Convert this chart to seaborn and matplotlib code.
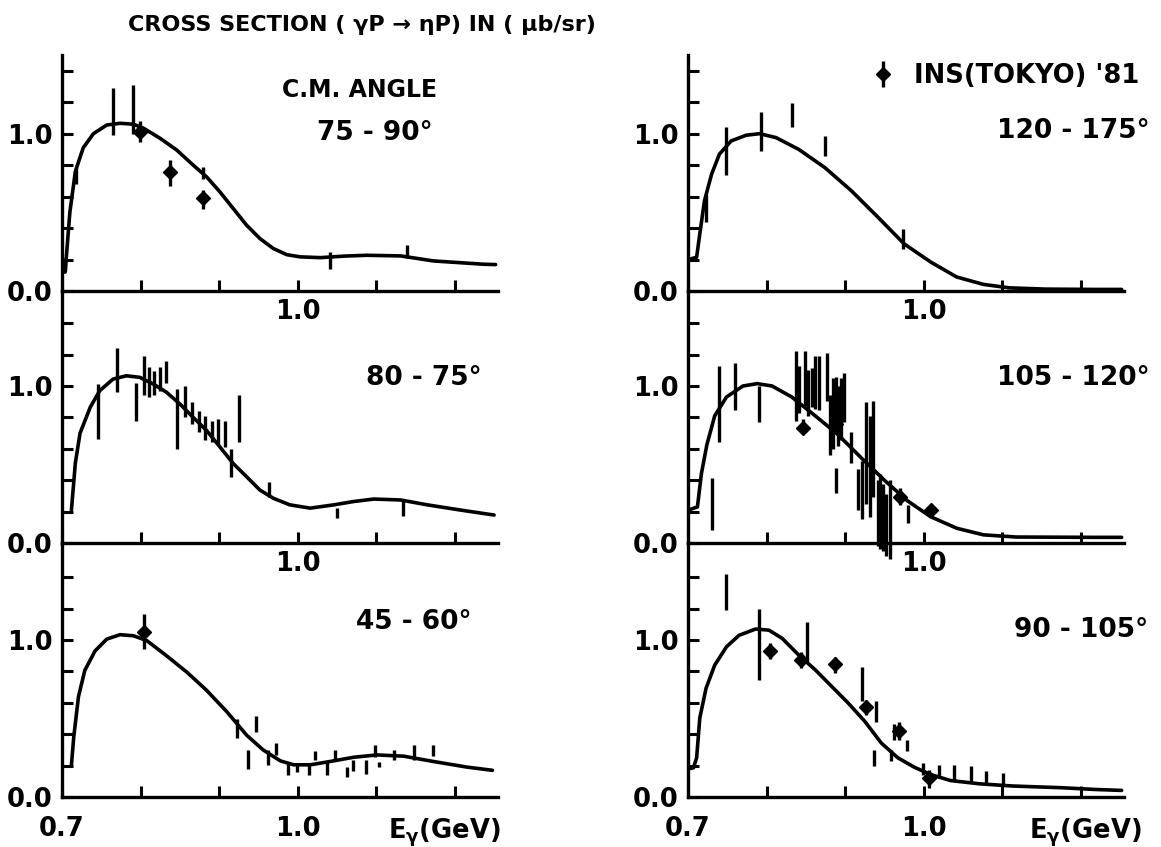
import numpy as np
import pandas as pd
import matplotlib
matplotlib.use("Agg")
import matplotlib.pyplot as plt
import seaborn as sns

# ---------------- data ----------------
# Left-top panel: 75-90 deg
lt_curve_e = [0.704, 0.710, 0.717, 0.727, 0.740, 0.757, 0.774, 0.791, 0.804, 0.825, 0.846, 0.867,
              0.884, 0.901, 0.918, 0.935, 0.952, 0.969, 0.986, 1.003, 1.029, 1.060, 1.088, 1.131,
              1.173, 1.237, 1.252]
lt_curve_y = [0.12, 0.50, 0.76, 0.91, 1.00, 1.055, 1.066, 1.06, 1.034, 0.97, 0.896, 0.80,
              0.726, 0.63, 0.524, 0.418, 0.333, 0.27, 0.231, 0.217, 0.212, 0.222, 0.227, 0.223,
              0.191, 0.17, 0.168]
lt_bar_e = [0.704, 0.718, 0.765, 0.791, 0.880, 1.041, 1.139]
lt_bar_lo = [0.13, 0.68, 0.99, 1.00, 0.715, 0.14, 0.21]
lt_bar_hi = [0.21, 0.78, 1.29, 1.31, 0.79, 0.25, 0.29]
lt_pt_e = [0.799, 0.838, 0.879]
lt_pt_y = [1.01, 0.758, 0.59]
lt_pt_lo = [0.95, 0.67, 0.52]
lt_pt_hi = [1.08, 0.83, 0.64]

# Left-middle panel: 80-75 deg
lm_curve_e = [0.712, 0.717, 0.723, 0.736, 0.748, 0.765, 0.782, 0.799, 0.816, 0.833, 0.850, 0.867,
              0.884, 0.901, 0.918, 0.935, 0.952, 0.969, 0.990, 1.016, 1.046, 1.071, 1.097, 1.131,
              1.165, 1.207, 1.250]
lm_curve_y = [0.21, 0.51, 0.70, 0.865, 0.97, 1.044, 1.065, 1.055, 1.013, 0.96, 0.886, 0.80,
              0.717, 0.612, 0.506, 0.422, 0.337, 0.285, 0.243, 0.222, 0.243, 0.264, 0.28, 0.274,
              0.243, 0.21, 0.178]
lm_bar_e = [0.746, 0.770, 0.794, 0.804, 0.811, 0.817, 0.825, 0.833, 0.846, 0.857, 0.865, 0.875,
            0.882, 0.891, 0.899, 0.907, 0.915, 0.925, 0.964, 1.050, 1.134]
lm_bar_lo = [0.665, 0.96, 0.78, 0.94, 0.928, 0.94, 0.97, 1.02, 0.60, 0.80, 0.76, 0.707,
             0.654, 0.644, 0.633, 0.612, 0.42, 0.644, 0.295, 0.16, 0.17]
lm_bar_hi = [1.013, 1.245, 1.02, 1.19, 1.118, 1.097, 1.118, 1.16, 0.98, 1.00, 0.897, 0.84,
             0.81, 0.78, 0.79, 0.78, 0.60, 0.94, 0.39, 0.22, 0.274]

# Left-bottom panel: 45-60 deg
lb_curve_e = [0.712, 0.715, 0.721, 0.729, 0.742, 0.757, 0.774, 0.791, 0.808, 0.833, 0.859, 0.884,
              0.910, 0.935, 0.956, 0.978, 0.995, 1.016, 1.041, 1.071, 1.101, 1.135, 1.173, 1.216,
              1.248]
lb_curve_y = [0.205, 0.385, 0.64, 0.806, 0.93, 1.006, 1.034, 1.027, 0.996, 0.90, 0.795, 0.68,
              0.542, 0.394, 0.30, 0.23, 0.205, 0.205, 0.226, 0.253, 0.268, 0.26, 0.226, 0.19,
              0.17]
lb_bar_e = [0.923, 0.947, 0.937, 0.962, 0.972, 0.988, 0.999, 1.014, 1.022, 1.037, 1.048, 1.063,
            1.071, 1.087, 1.098, 1.104, 1.122, 1.148, 1.172]
lb_bar_lo = [0.373, 0.416, 0.177, 0.205, 0.268, 0.14, 0.157, 0.14, 0.236, 0.14, 0.236, 0.13,
             0.163, 0.148, 0.257, 0.19, 0.236, 0.236, 0.26]
lb_bar_hi = [0.50, 0.515, 0.30, 0.30, 0.346, 0.215, 0.215, 0.215, 0.29, 0.226, 0.30, 0.194,
             0.236, 0.236, 0.33, 0.226, 0.30, 0.33, 0.33]
lb_pt_e = [0.805]
lb_pt_y = [1.05]
lb_pt_lo = [0.943]
lb_pt_hi = [1.165]

# Right-top panel: 120-175 deg
rt_curve_e = [0.701, 0.711, 0.715, 0.721, 0.730, 0.740, 0.755, 0.774, 0.791, 0.812, 0.841, 0.874,
              0.908, 0.942, 0.975, 1.009, 1.042, 1.076, 1.109, 1.155, 1.218, 1.252]
rt_curve_y = [0.20, 0.215, 0.363, 0.574, 0.742, 0.87, 0.954, 0.99, 1.0, 0.975, 0.90, 0.785,
              0.637, 0.468, 0.30, 0.184, 0.089, 0.042, 0.02, 0.012, 0.01, 0.01]
rt_bar_e = [0.723, 0.749, 0.793, 0.832, 0.874, 0.974]
rt_bar_lo = [0.437, 0.74, 0.89, 1.04, 0.86, 0.268]
rt_bar_hi = [0.616, 1.04, 1.14, 1.196, 0.985, 0.394]

# Right-middle panel: 105-120 deg
rm_curve_e = [0.701, 0.712, 0.717, 0.724, 0.734, 0.749, 0.770, 0.788, 0.807, 0.832, 0.862, 0.891,
              0.921, 0.950, 0.979, 1.009, 1.042, 1.076, 1.118, 1.218, 1.252]
rm_curve_y = [0.21, 0.23, 0.44, 0.625, 0.81, 0.93, 1.0, 1.015, 1.0, 0.93, 0.81, 0.69,
              0.54, 0.40, 0.27, 0.167, 0.094, 0.052, 0.038, 0.036, 0.036]
rm_bar_e = [0.730, 0.740, 0.760, 0.791, 0.837, 0.841, 0.849, 0.853, 0.858, 0.862, 0.867, 0.877,
            0.881, 0.885, 0.888, 0.891, 0.895, 0.898, 0.889, 0.907, 0.916, 0.922, 0.927, 0.932,
            0.936, 0.942, 0.945, 0.948, 0.952, 0.957, 0.980]
rm_bar_lo = [0.083, 0.646, 0.844, 0.77, 0.78, 0.83, 0.875, 0.81, 0.865, 0.855, 0.844, 0.906,
             0.56, 0.60, 0.71, 0.615, 0.656, 0.77, 0.32, 0.51, 0.21, 0.156, 0.25, 0.167,
             0.29, -0.02, -0.04, -0.05, -0.08, -0.10, 0.125]
rm_bar_hi = [0.417, 1.125, 1.146, 1.0, 1.22, 1.125, 1.22, 1.10, 1.115, 1.19, 1.19, 1.21,
             0.94, 1.05, 1.06, 1.0, 1.05, 1.08, 0.48, 0.71, 0.47, 0.52, 0.896, 0.81,
             0.906, 0.40, 0.44, 0.375, 0.31, 0.40, 0.24]
rm_pt_e = [0.847, 0.889, 0.970, 1.009]
rm_pt_y = [0.73, 0.76, 0.29, 0.21]
rm_pt_lo = [0.70, 0.72, 0.24, 0.17]
rm_pt_hi = [0.79, 0.80, 0.35, 0.25]

# Right-bottom panel: 90-105 deg
rb_curve_e = [0.701, 0.707, 0.711, 0.715, 0.723, 0.734, 0.749, 0.765, 0.786, 0.803, 0.820, 0.841,
              0.862, 0.883, 0.904, 0.925, 0.946, 0.967, 0.988, 1.009, 1.034, 1.071, 1.113, 1.176,
              1.218, 1.252]
rb_curve_y = [0.18, 0.186, 0.25, 0.503, 0.693, 0.84, 0.957, 1.03, 1.07, 1.063, 1.01, 0.904,
              0.81, 0.704, 0.598, 0.482, 0.344, 0.25, 0.19, 0.143, 0.105, 0.084, 0.07, 0.059,
              0.048, 0.042]
rb_bar_e = [0.749, 0.791, 0.851, 0.921, 0.939, 0.937, 0.962, 0.979, 0.958, 0.999, 1.019, 1.039,
            1.060, 1.079, 1.101]
rb_bar_lo = [1.19, 0.746, 0.862, 0.61, 0.48, 0.197, 0.36, 0.29, 0.228, 0.143, 0.122, 0.10,
             0.09, 0.08, 0.08]
rb_bar_hi = [1.42, 1.20, 1.116, 0.83, 0.61, 0.30, 0.465, 0.365, 0.30, 0.218, 0.207, 0.207,
             0.197, 0.165, 0.154]
rb_pt_e = [0.805, 0.844, 0.887, 0.926, 0.968, 1.007]
rb_pt_y = [0.93, 0.873, 0.845, 0.573, 0.42, 0.122]
rb_pt_lo = [0.88, 0.82, 0.79, 0.524, 0.365, 0.059]
rb_pt_hi = [0.98, 0.926, 0.894, 0.62, 0.48, 0.175]

angle_labels = ["75 - 90°", "80 - 75°", "45 - 60°", "120 - 175°", "105 - 120°", "90 - 105°"]
title_text = "CROSS SECTION ( γP → ηP) IN ( μb/sr)"
legend_text = "INS(TOKYO) '81"
x_ticks = [0.7, 0.8, 0.9, 1.0, 1.1, 1.2]
y_ticks = [0.0, 0.2, 0.4, 0.6, 0.8, 1.0, 1.2, 1.4]

# ---------------- figure ----------------
sns.set_style("ticks")
plt.rcParams["font.family"] = ["DejaVu Sans"]
plt.rcParams["font.weight"] = "bold"
plt.rcParams["mathtext.fontset"] = "dejavusans"
plt.rcParams["mathtext.default"] = "bf"
for k in ["text.color", "axes.labelcolor", "xtick.color", "ytick.color", "axes.edgecolor"]:
    plt.rcParams[k] = "black"

W, H = 1161, 847
fig = plt.figure(figsize=(W / 100, H / 100), dpi=100)

def px_rect(x0, y_top, x1, y_bot):
    return [x0 / W, 1 - y_bot / H, (x1 - x0) / W, (y_bot - y_top) / H]

rows = [(55, 291, 1.50), (291, 543, 1.605), (543, 797, 1.618)]
cols = [(62, 498), (688, 1124)]

panels = [
    ("lt", 0, 0), ("lm", 0, 1), ("lb", 0, 2),
    ("rt", 1, 0), ("rm", 1, 1), ("rb", 1, 2),
]
data = {
    "lt": (lt_curve_e, lt_curve_y, lt_bar_e, lt_bar_lo, lt_bar_hi, lt_pt_e, lt_pt_y, lt_pt_lo, lt_pt_hi),
    "lm": (lm_curve_e, lm_curve_y, lm_bar_e, lm_bar_lo, lm_bar_hi, [], [], [], []),
    "lb": (lb_curve_e, lb_curve_y, lb_bar_e, lb_bar_lo, lb_bar_hi, lb_pt_e, lb_pt_y, lb_pt_lo, lb_pt_hi),
    "rt": (rt_curve_e, rt_curve_y, rt_bar_e, rt_bar_lo, rt_bar_hi, [], [], [], []),
    "rm": (rm_curve_e, rm_curve_y, rm_bar_e, rm_bar_lo, rm_bar_hi, rm_pt_e, rm_pt_y, rm_pt_lo, rm_pt_hi),
    "rb": (rb_curve_e, rb_curve_y, rb_bar_e, rb_bar_lo, rb_bar_hi, rb_pt_e, rb_pt_y, rb_pt_lo, rb_pt_hi),
}
label_pos = {
    "lt": (0.85, 0.67, "right"), "lm": (0.963, 0.655, "right"), "lb": (0.94, 0.69, "right"),
    "rt": (1.06, 0.68, "right"), "rm": (1.06, 0.655, "right"), "rb": (1.055, 0.657, "right"),
}

legend_handle = None
for i, (key, c, r) in enumerate(panels):
    x0, x1 = cols[c]
    yt, yb, ymax = rows[r]
    ax = fig.add_axes(px_rect(x0, yt, x1, yb))
    ax.patch.set_visible(False)
    ce, cy, be, blo, bhi, pe, py, plo, phi = data[key]

    df = pd.DataFrame({"E": ce, "sigma": cy})
    sns.lineplot(data=df, x="E", y="sigma", ax=ax, color="black", linewidth=2.6,
                 sort=False, estimator=None, clip_on=False)
    ax.vlines(be, blo, bhi, colors="black", linewidth=2.4, clip_on=False)
    if len(pe):
        pe_a, py_a = np.array(pe), np.array(py)
        yerr = [py_a - np.array(plo), np.array(phi) - py_a]
        h = ax.errorbar(pe_a, py_a, yerr=yerr, fmt="D", color="black", markersize=7.5,
                        elinewidth=2.4, capsize=0, clip_on=False)
        if legend_handle is None:
            legend_handle = h

    ax.set_xlim(0.7, 1.255)
    ax.set_ylim(0, ymax)
    ax.set_xticks(x_ticks)
    if r == 2:
        ax.set_xticklabels(["0.7", "", "", "1.0", "", ""])
    else:
        ax.set_xticklabels(["", "", "", "1.0", "", ""])
    ax.set_yticks(y_ticks)
    ax.set_yticklabels(["0.0", "", "", "", "", "1.0", "", ""])
    ax.tick_params(direction="in", length=8, width=2.2, labelsize=18.5, colors="black")
    ax.tick_params(axis="x", pad=14 if r == 2 else 6)
    ax.tick_params(axis="y", pad=7)
    ax.set_xlabel("")
    ax.set_ylabel("")
    for s in ["top", "right"]:
        ax.spines[s].set_visible(False)
    for s in ["left", "bottom"]:
        ax.spines[s].set_linewidth(2.4)
        ax.spines[s].set_color("black")

    lx, ly, ha = label_pos[key]
    ax.text(lx, ly, angle_labels[i], transform=ax.transAxes, ha=ha, va="center",
            fontsize=19, fontweight="bold", color="black")
    if key == "lt":
        ax.text(0.682, 0.85, "C.M. ANGLE", transform=ax.transAxes, ha="center", va="center",
                fontsize=17, fontweight="bold", color="black")
    if r == 2:
        ax.text(1.005 if c == 0 else 1.04, -0.14, r"E$_{\gamma}$(GeV)", transform=ax.transAxes,
                ha="right", va="center", fontsize=18.5, fontweight="bold", color="black")

fig.text(0.312, 0.970, title_text, ha="center", va="center", fontsize=16,
         fontweight="bold", color="black")

fig.legend([legend_handle], [legend_text], loc="center right",
           bbox_to_anchor=(1152 / W, 1 - 76 / H), frameon=False,
           prop={"size": 18.5, "weight": "bold"},
           handlelength=0.6, handletextpad=0.9, borderpad=0)

fig.savefig("out.png", dpi=100)
